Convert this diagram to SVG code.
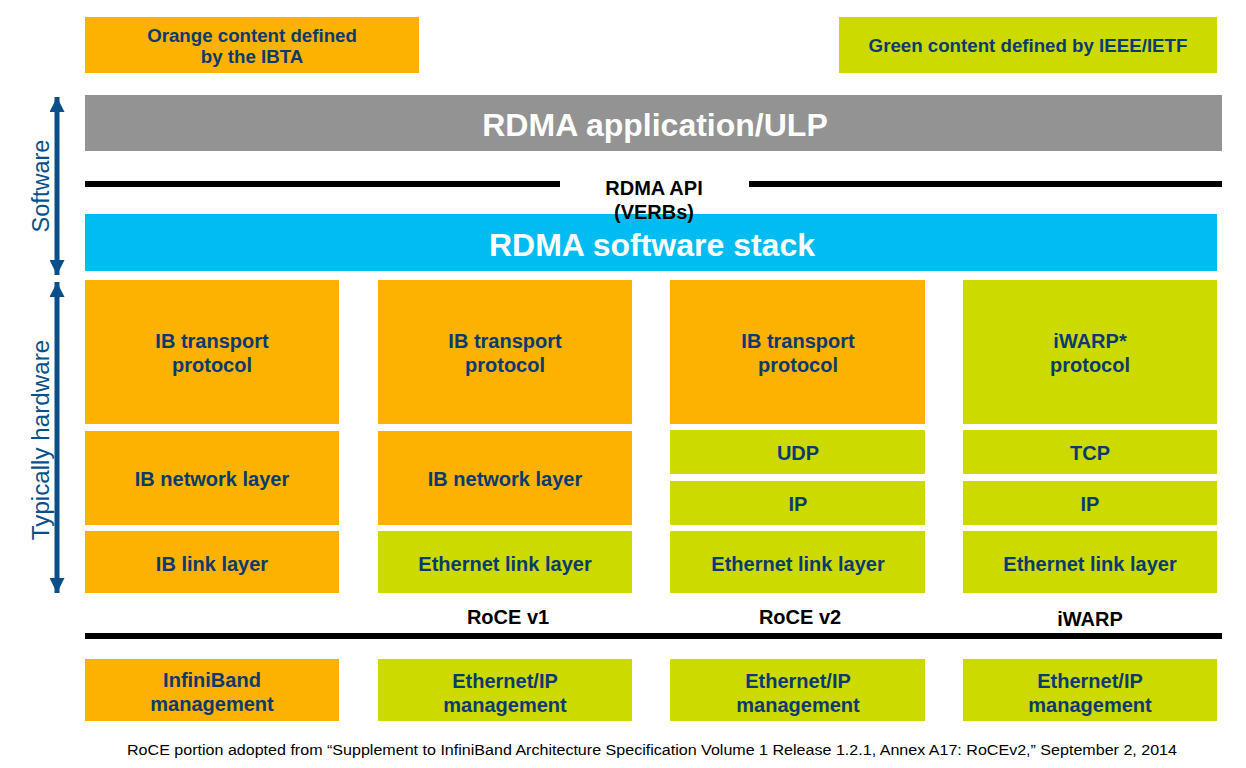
<svg xmlns="http://www.w3.org/2000/svg" width="1246" height="768" viewBox="0 0 1246 768">
<style>
.o{fill:#FDB100}.g{fill:#CCDA00}
.t{font-family:"Liberation Sans",Arial,sans-serif;font-weight:bold;font-size:20px;fill:#0B3A6E;text-anchor:middle}
.l{font-size:18.7px}
.w{font-family:"Liberation Sans",Arial,sans-serif;font-weight:bold;font-size:32px;fill:#fff;text-anchor:middle}
.k{font-family:"Liberation Sans",Arial,sans-serif;font-weight:bold;font-size:20px;fill:#000;text-anchor:middle}
.s{font-family:"Liberation Sans",Arial,sans-serif;font-size:23.5px;fill:#0B4F8A;text-anchor:middle}
.f{font-family:"Liberation Sans",Arial,sans-serif;font-size:14px;fill:#000;text-anchor:middle}
</style>
<defs>
<marker id="ah" viewBox="0 0 10 10" refX="10" refY="5" markerWidth="3" markerHeight="3" orient="auto-start-reverse" markerUnits="strokeWidth">
<path d="M0,0 L10,5 L0,10 z" fill="#0B4F8A"/>
</marker>
</defs>
<rect width="1246" height="768" fill="#fff"/>
<g id="legend-orange"><rect class="o" x="85" y="17" width="334" height="56"/><text class="t l" x="252" y="42">Orange content defined</text><text class="t l" x="252" y="63">by the IBTA</text></g>
<g id="legend-green"><rect class="g" x="839" y="17" width="378" height="56"/><text class="t l" x="1028" y="52">Green content defined by IEEE/IETF</text></g>
<g id="app"><rect x="85" y="95" width="1137" height="56" fill="#939393"/><text class="w" x="655" y="136">RDMA application/ULP</text></g>
<g id="api-lines"><rect x="85" y="181" width="475" height="6" fill="#000"/><rect x="749" y="181" width="473" height="6" fill="#000"/></g>
<g id="stack"><rect x="85" y="214" width="1132" height="57" fill="#00BCF0"/><text class="w" x="652" y="256">RDMA software stack</text></g>
<g id="api"><text class="k" x="654" y="195">RDMA API</text><text class="k" x="654" y="219">(VERBs)</text></g>
<g id="connectors">
<line x1="57" y1="97" x2="57" y2="275" stroke="#0B4F8A" stroke-width="5" marker-start="url(#ah)" marker-end="url(#ah)"/>
<line x1="57" y1="282" x2="57" y2="593" stroke="#0B4F8A" stroke-width="5" marker-start="url(#ah)" marker-end="url(#ah)"/>
</g>
<g id="side-labels">
<text class="s" transform="translate(49,186) rotate(-90)">Software</text>
<text class="s" transform="translate(49,440) rotate(-90)" style="font-size:24.2px">Typically hardware</text>
</g>
<g id="ib">
<rect class="o" x="85" y="280" width="254" height="144"/><text class="t" x="212" y="348">IB transport</text><text class="t" x="212" y="372">protocol</text>
<rect class="o" x="85" y="431" width="254" height="94"/><text class="t" x="212" y="486">IB network layer</text>
<rect class="o" x="85" y="531" width="254" height="62"/><text class="t" x="212" y="571">IB link layer</text>
</g>
<g id="rocev1">
<rect class="o" x="378" y="280" width="254" height="144"/><text class="t" x="505" y="348">IB transport</text><text class="t" x="505" y="372">protocol</text>
<rect class="o" x="378" y="431" width="254" height="94"/><text class="t" x="505" y="486">IB network layer</text>
<rect class="g" x="378" y="531" width="254" height="62"/><text class="t" x="505" y="571">Ethernet link layer</text>
</g>
<g id="rocev2">
<rect class="o" x="670" y="280" width="255" height="144"/><text class="t" x="798" y="348">IB transport</text><text class="t" x="798" y="372">protocol</text>
<rect class="g" x="670" y="430" width="255" height="44"/><text class="t" x="798" y="460">UDP</text>
<rect class="g" x="670" y="481" width="255" height="44"/><text class="t" x="798" y="511">IP</text>
<rect class="g" x="670" y="531" width="255" height="62"/><text class="t" x="798" y="571">Ethernet link layer</text>
</g>
<g id="iwarp">
<rect class="g" x="963" y="280" width="254" height="144"/><text class="t" x="1090" y="348">iWARP*</text><text class="t" x="1090" y="372">protocol</text>
<rect class="g" x="963" y="430" width="254" height="44"/><text class="t" x="1090" y="460">TCP</text>
<rect class="g" x="963" y="481" width="254" height="44"/><text class="t" x="1090" y="511">IP</text>
<rect class="g" x="963" y="531" width="254" height="62"/><text class="t" x="1090" y="571">Ethernet link layer</text>
</g>
<g id="names">
<text class="k" x="508" y="624">RoCE v1</text>
<text class="k" x="800" y="624">RoCE v2</text>
<text class="k" x="1090" y="626">iWARP</text>
<rect x="85" y="633" width="1137" height="6" fill="#000"/>
</g>
<g id="mgmt">
<rect class="o" x="85" y="659" width="254" height="62"/><text class="t" x="212" y="687">InfiniBand</text><text class="t" x="212" y="711">management</text>
<rect class="g" x="378" y="659" width="254" height="62"/><text class="t" x="505" y="688">Ethernet/IP</text><text class="t" x="505" y="712">management</text>
<rect class="g" x="670" y="659" width="255" height="62"/><text class="t" x="798" y="688">Ethernet/IP</text><text class="t" x="798" y="712">management</text>
<rect class="g" x="963" y="659" width="254" height="62"/><text class="t" x="1090" y="688">Ethernet/IP</text><text class="t" x="1090" y="712">management</text>
</g>
<text class="f" x="652" y="755" textLength="1050" lengthAdjust="spacingAndGlyphs">RoCE portion adopted from “Supplement to InfiniBand Architecture Specification Volume 1 Release 1.2.1, Annex A17: RoCEv2,” September 2, 2014</text>
</svg>
